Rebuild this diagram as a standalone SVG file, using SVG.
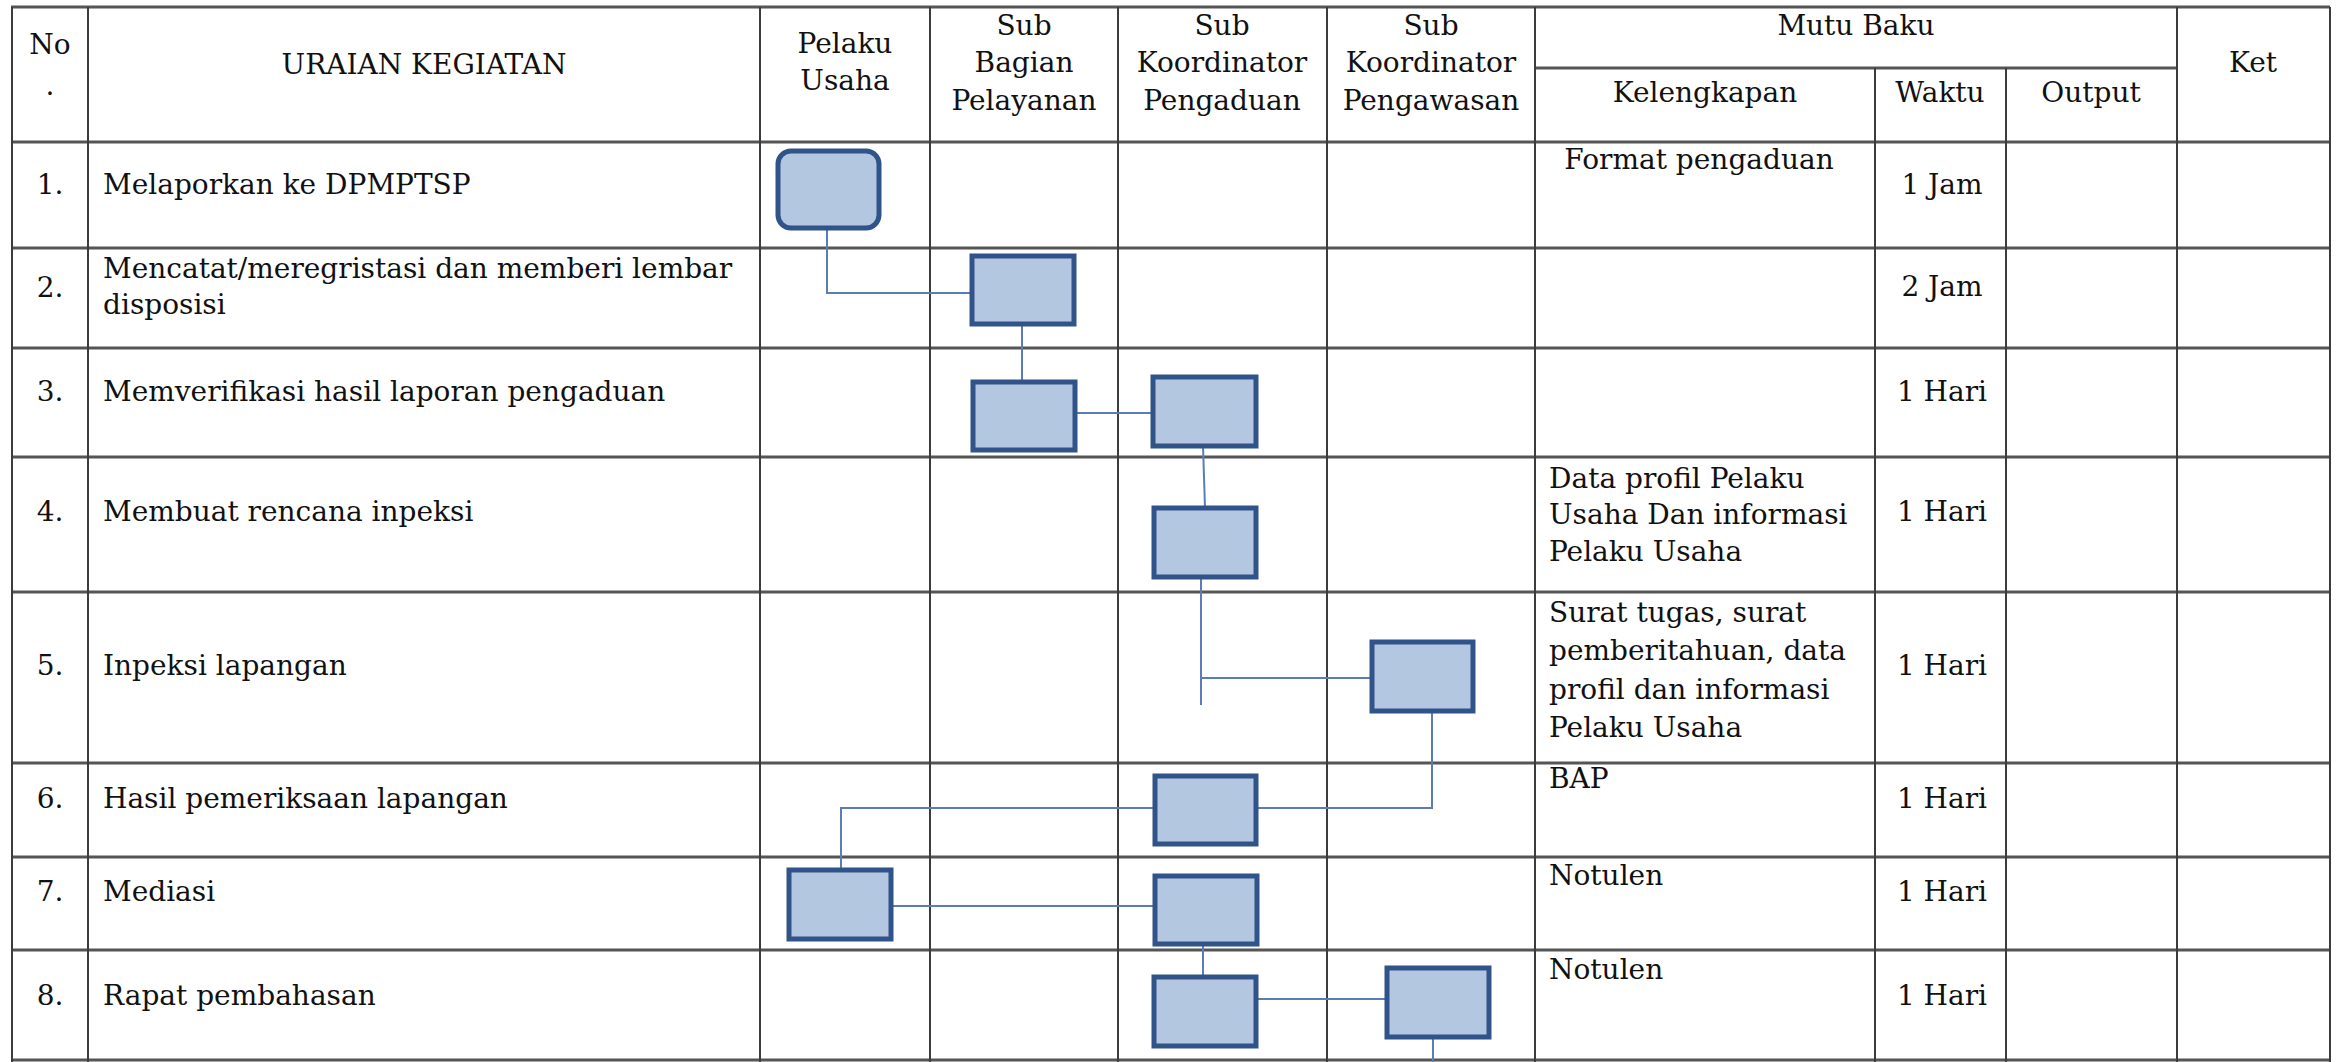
<svg xmlns="http://www.w3.org/2000/svg" width="2337" height="1062" viewBox="0 0 2337 1062">
<style>
text{font-family:"DejaVu Serif","Liberation Serif",serif;font-size:28px;fill:#111}
.c{text-anchor:middle}
.h{stroke:#555;stroke-width:3;fill:none}
.v{stroke:#3c3c3c;stroke-width:2;fill:none}
.box{fill:#b4c7e0;stroke:#30538a;stroke-width:5}
.con{fill:none;stroke:#5b7db5;stroke-width:2}
</style>
<rect width="2337" height="1062" fill="#fff"/>
<g id="grid">
<path class="h" d="M11,7H2330M1535,68H2177M11,142H2330M11,248H2330M11,348H2330M11,457H2330M11,592H2330M11,763H2330M11,857H2330M11,950H2330M11,1060H2330"/>
<path class="v" d="M12,7V1062M88,7V1062M760,7V1062M930,7V1062M1118,7V1062M1327,7V1062M1535,7V1062M1875,68V1062M2006,68V1062M2177,7V1062M2330,7V1062"/>
</g>
<g id="header">
<text class="c" x="50" y="54">No</text>
<text class="c" x="50" y="95">.</text>
<text class="c" x="424" y="74">URAIAN KEGIATAN</text>
<text class="c" x="845" y="53">Pelaku</text>
<text class="c" x="845" y="90">Usaha</text>
<text class="c" x="1024" y="35">Sub</text>
<text class="c" x="1024" y="72">Bagian</text>
<text class="c" x="1024" y="110">Pelayanan</text>
<text class="c" x="1222" y="35">Sub</text>
<text class="c" x="1222" y="72">Koordinator</text>
<text class="c" x="1222" y="110">Pengaduan</text>
<text class="c" x="1431" y="35">Sub</text>
<text class="c" x="1431" y="72">Koordinator</text>
<text class="c" x="1431" y="110">Pengawasan</text>
<text class="c" x="1856" y="35">Mutu Baku</text>
<text class="c" x="1705" y="102">Kelengkapan</text>
<text class="c" x="1940" y="102">Waktu</text>
<text class="c" x="2091" y="102">Output</text>
<text class="c" x="2253" y="72">Ket</text>
</g>
<g id="rows">
<text class="c" x="50" y="194">1.</text>
<text x="103" y="194">Melaporkan ke DPMPTSP</text>
<text class="c" x="50" y="297">2.</text>
<text x="103" y="278">Mencatat/meregristasi dan memberi lembar</text>
<text x="103" y="314">disposisi</text>
<text class="c" x="50" y="401">3.</text>
<text x="103" y="401">Memverifikasi hasil laporan pengaduan</text>
<text class="c" x="50" y="521">4.</text>
<text x="103" y="521">Membuat rencana inpeksi</text>
<text class="c" x="50" y="675">5.</text>
<text x="103" y="675">Inpeksi lapangan</text>
<text class="c" x="50" y="808">6.</text>
<text x="103" y="808">Hasil pemeriksaan lapangan</text>
<text class="c" x="50" y="901">7.</text>
<text x="103" y="901">Mediasi</text>
<text class="c" x="50" y="1005">8.</text>
<text x="103" y="1005">Rapat pembahasan</text>
</g>
<g id="kelengkapan">
<text class="c" x="1699" y="169">Format pengaduan</text>
<text x="1549" y="488">Data profil Pelaku</text>
<text x="1549" y="524">Usaha Dan informasi</text>
<text x="1549" y="561">Pelaku Usaha</text>
<text x="1549" y="622">Surat tugas, surat</text>
<text x="1549" y="660">pemberitahuan, data</text>
<text x="1549" y="699">profil dan informasi</text>
<text x="1549" y="737">Pelaku Usaha</text>
<text x="1549" y="788">BAP</text>
<text x="1549" y="885">Notulen</text>
<text x="1549" y="979">Notulen</text>
</g>
<g id="waktu">
<text class="c" x="1942" y="194">1 Jam</text>
<text class="c" x="1942" y="296">2 Jam</text>
<text class="c" x="1942" y="401">1 Hari</text>
<text class="c" x="1942" y="521">1 Hari</text>
<text class="c" x="1942" y="675">1 Hari</text>
<text class="c" x="1942" y="808">1 Hari</text>
<text class="c" x="1942" y="901">1 Hari</text>
<text class="c" x="1942" y="1005">1 Hari</text>
</g>
<g id="connectors">
<path class="con" d="M827,229V293H972"/>
<path class="con" d="M1022,324V382"/>
<path class="con" d="M1075,413H1153"/>
<path class="con" d="M1203,446L1205,508"/>
<path class="con" d="M1201,577V705M1201,678H1372"/>
<path class="con" d="M1432,711V808H1256"/>
<path class="con" d="M1155,808H841V870"/>
<path class="con" d="M891,906H1155"/>
<path class="con" d="M1203,944V977"/>
<path class="con" d="M1256,999H1387"/>
<path class="con" d="M1433,1037V1062"/>
</g>
<g id="n1"><rect class="box" x="778" y="151" width="101" height="77" rx="13"/></g>
<g id="n2"><rect class="box" x="972" y="256" width="102" height="68"/></g>
<g id="n3"><rect class="box" x="973" y="382" width="102" height="68"/></g>
<g id="n4"><rect class="box" x="1153" y="377" width="103" height="69"/></g>
<g id="n5"><rect class="box" x="1154" y="508" width="102" height="69"/></g>
<g id="n6"><rect class="box" x="1372" y="642" width="101" height="69"/></g>
<g id="n7"><rect class="box" x="1155" y="776" width="101" height="68"/></g>
<g id="n8"><rect class="box" x="789" y="870" width="102" height="69"/></g>
<g id="n9"><rect class="box" x="1155" y="876" width="102" height="68"/></g>
<g id="n10"><rect class="box" x="1154" y="977" width="102" height="69"/></g>
<g id="n11"><rect class="box" x="1387" y="968" width="102" height="69"/></g>
</svg>
